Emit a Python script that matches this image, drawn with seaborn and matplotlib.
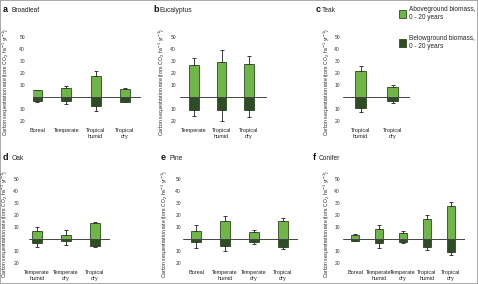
import matplotlib
matplotlib.use('Agg')
import numpy as np
import pandas as pd
import seaborn as sns
import matplotlib.pyplot as plt
from matplotlib.patches import Patch, Rectangle

# ---- data (tons CO2 / ha / yr) ----
a_cats = ['Boreal', 'Temperate', 'Tropical\nhumid', 'Tropical\ndry']
a_above = [5.5, 7.8, 17.5, 6.9]
a_above_err = [0.5, 1.6, 4.2, 0.9]
a_below = [3.3, 3.6, 7.8, 3.9]
a_below_err = [0.7, 1.9, 3.6, 0.5]

b_cats = ['Temperate', 'Tropical\nhumid', 'Tropical\ndry']
b_above = [26.7, 28.9, 27.5]
b_above_err = [5.8, 10.0, 6.4]
b_below = [10.6, 11.1, 10.6]
b_below_err = [5.4, 9.2, 6.1]

c_cats = ['Tropical\nhumid', 'Tropical\ndry']
c_above = [21.4, 8.3]
c_above_err = [4.2, 1.7]
c_below = [8.9, 3.6]
c_below_err = [3.6, 1.7]

d_cats = ['Temperate\nhumid', 'Temperate\ndry', 'Tropical\ndry']
d_above = [6.9, 3.3, 13.6]
d_above_err = [3.4, 4.2, 0.8]
d_below = [3.1, 1.7, 5.8]
d_below_err = [3.3, 3.0, 0.6]

e_cats = ['Boreal', 'Temperate\nhumid', 'Temperate\ndry', 'Tropical\ndry']
e_above = [6.9, 15.0, 5.6, 15.0]
e_above_err = [5.0, 4.4, 1.9, 2.2]
e_below = [2.8, 6.1, 2.2, 6.4]
e_below_err = [5.0, 3.9, 1.7, 1.9]

f_cats = ['Boreal', 'Temperate\nhumid', 'Temperate\ndry', 'Tropical\nhumid', 'Tropical\ndry']
f_above = [3.6, 8.3, 4.7, 16.9, 27.8]
f_above_err = [0.8, 3.6, 2.2, 3.1, 2.8]
f_below = [1.4, 3.3, 2.2, 6.9, 10.6]
f_below_err = [0.5, 3.9, 1.4, 2.0, 2.5]

ytick_vals = [50, 40, 30, 20, 10, -10, -20]

LIGHT = '#70b547'
DARK = '#2f4d25'
EDGE = '#2c4a1f'
ERR = '#3a3a3a'

W, H = 478, 284
PX_PER_UNIT = 1.2
Y_TOP, Y_BOT = 55, -23


def main():
    sns.set_style('white')
    plt.rcParams['font.family'] = ['Liberation Sans', 'DejaVu Sans']

    fig = plt.figure(figsize=(W / 100, H / 100), dpi=100)

    # letter, name, data, geometry in pixels:
    # (line_left, line_right, tick_right, ylabel_x, first_center, spacing, zero_y, letter_x, name_x, title_y)
    panels = [
        ('a', 'Broadleaf', a_cats, a_above, a_above_err, a_below, a_below_err,
         (33, 141, 25, 6, 37, 29.3, 97, 3, 12, 10)),
        ('b', 'Eucalyptus', b_cats, b_above, b_above_err, b_below, b_below_err,
         (180, 267, 176, 162, 194, 27.5, 97, 153, 160, 10)),
        ('c', 'Teak', c_cats, c_above, c_above_err, c_below, c_below_err,
         (343, 410, 340, 327, 360.5, 32, 97, 316, 322, 10)),
        ('d', 'Oak', d_cats, d_above, d_above_err, d_below, d_below_err,
         (29, 110, 19, 5, 37, 29, 239, 3, 12, 158)),
        ('e', 'Pine', e_cats, e_above, e_above_err, e_below, e_below_err,
         (183, 298, 181, 165, 196, 29, 239, 161, 169, 158)),
        ('f', 'Conifer', f_cats, f_above, f_above_err, f_below, f_below_err,
         (343, 465, 340, 327, 355, 24, 239, 313, 319, 158)),
    ]

    for letter, name, cats, above, above_err, below, below_err, geo in panels:
        l_left, l_right, t_right, ylab_x, c0, sp, zero_y, let_x, name_x, title_y = geo
        top = zero_y - Y_TOP * PX_PER_UNIT
        bot = zero_y - Y_BOT * PX_PER_UNIT
        ax = fig.add_axes([l_left / W, 1 - bot / H, (l_right - l_left) / W, (bot - top) / H])

        df = pd.DataFrame({'cat': cats, 'above': above, 'below': [-v for v in below]})
        sns.barplot(data=df, x='cat', y='above', color=LIGHT, width=0.34, saturation=1,
                    edgecolor=EDGE, linewidth=0.6, errorbar=None, ax=ax)
        sns.barplot(data=df, x='cat', y='below', color=DARK, width=0.34, saturation=1,
                    edgecolor=EDGE, linewidth=0.6, errorbar=None, ax=ax)

        pos = np.arange(len(cats))
        ax.errorbar(pos, above, yerr=[np.zeros(len(cats)), above_err], fmt='none',
                    ecolor=ERR, elinewidth=0.7, capsize=1.3, capthick=0.7)
        ax.errorbar(pos, -np.array(below), yerr=[below_err, np.zeros(len(cats))], fmt='none',
                    ecolor=ERR, elinewidth=0.7, capsize=1.3, capthick=0.7)
        ax.axhline(0, color='#444444', lw=0.7, zorder=5)

        ax.set_xlim((l_left - c0) / sp, (l_right - c0) / sp)
        ax.set_ylim(Y_BOT, Y_TOP)
        ax.set_yticks(ytick_vals)
        ax.set_yticklabels([str(abs(v)) for v in ytick_vals])
        pad = max(l_left - t_right, 1) * 0.72
        ax.tick_params(axis='y', length=0, pad=pad, labelsize=3.6, labelcolor='#333333')
        ax.tick_params(axis='x', length=0, pad=2.5, labelsize=4.0, labelcolor='#222222')
        ax.set_xlabel('')
        ax.set_ylabel('')
        for s in ax.spines.values():
            s.set_visible(False)
        ax.patch.set_alpha(0)

        fig.text(ylab_x / W, 1 - (zero_y - 15) / H,
                 'Carbon sequestration rate (tons CO$_2$ ha$^{-1}$ yr$^{-1}$)',
                 rotation=90, ha='center', va='center', fontsize=3.6, color='#222222')
        fig.text(let_x / W, 1 - title_y / H, letter, fontsize=6.5, fontweight='bold',
                 ha='left', va='center', color='#111111')
        fig.text(name_x / W, 1 - title_y / H, name, fontsize=4.8,
                 ha='left', va='center', color='#222222')

    handles = [Patch(facecolor=LIGHT, edgecolor=EDGE, linewidth=0.6),
               Patch(facecolor=DARK, edgecolor=EDGE, linewidth=0.6)]
    labels = ['Aboveground biomass,\n0 - 20 years', 'Belowground biomass,\n0 - 20 years']
    fig.legend(handles, labels, loc='upper left', bbox_to_anchor=(399 / W, 1 - 6 / H),
               frameon=False, fontsize=4.7, handlelength=1.1, handleheight=1.5,
               handletextpad=0.45, labelspacing=2.2, borderaxespad=0, borderpad=0)

    fig.patches.append(Rectangle((0, 0), 1, 1, transform=fig.transFigure, fill=False,
                                 edgecolor='#9a9a9a', linewidth=1.2))

    fig.savefig('out.png', dpi=100)


if __name__ == '__main__':
    main()
